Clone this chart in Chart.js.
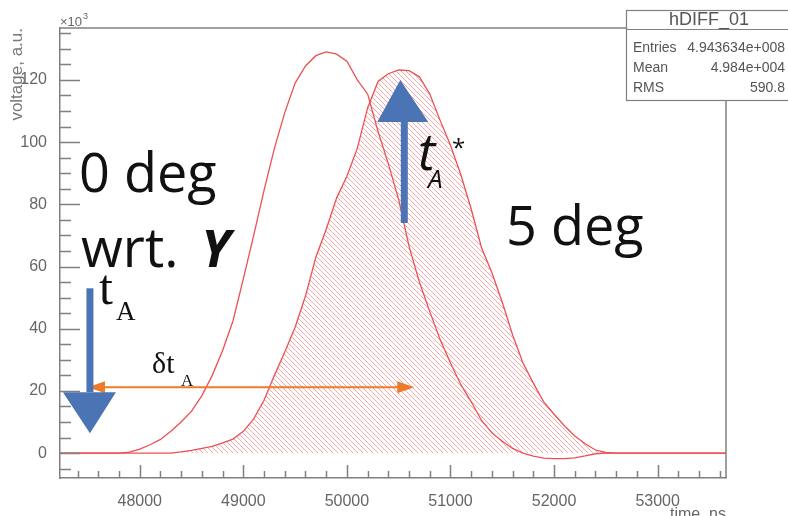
<!DOCTYPE html>
<html>
<head>
<meta charset="utf-8">
<script src="https://cdn.jsdelivr.net/npm/chart.js@4.4.1/dist/chart.umd.min.js"></script>
<style>
  html, body { margin: 0; padding: 0; background: #fff; }
</style>
</head>
<body>
<canvas id="chart" width="788" height="516"></canvas>
<script>
// time bins (ns)
const timeNs = [47200,
  47800, 47900, 48000, 48100, 48200, 48300, 48400, 48500, 48600, 48700,
  48800, 48900, 49000, 49100, 49200, 49300, 49400, 49500, 49600, 49700,
  49800, 49900, 50000, 50100, 50200, 50300, 50400, 50500, 50600, 50700,
  50800, 50900, 51000, 51100, 51200, 51300, 51400, 51500, 51600, 51700,
  51800, 51900, 52000, 52100, 52200, 52300, 52400, 52500, 52600,
  53700];

// voltage, a.u. (x10^3), 0 deg wrt. Y
const deg0 = [0,
  0, 0.3, 1.3, 2.7, 4.4, 7, 10, 13.5, 18.5, 25,
  33, 42.5, 56, 70, 84.5, 98, 109.5, 119, 124.5, 127.8,
  129, 128.3, 126, 120, 115.5, 103.5, 93, 81.5, 66.5, 55,
  45.5, 36.5, 29, 22, 16.5, 10.5, 6.5, 3.8, 1.5, 0,
  -1, -1.6, -1.8, -1.8, -1.5, -0.9, -0.2, 0, 0,
  0];

// 5 deg (hatched)
const deg5 = [0,
  0, 0, 0, 0, 0, 0, 0.4, 0.9, 1.5, 2.2,
  3.3, 4.5, 7, 11, 17, 25, 32.5, 40.5, 50.5, 63,
  72, 82, 89, 98, 111, 119.5, 122, 123.2, 123, 121,
  115.5, 107, 99, 89.5, 78.5, 66, 58, 48.5, 38, 29,
  22.5, 16.5, 12.5, 8.8, 5.5, 3, 1, 0.2, 0,
  0];

const xTickValues = [48000, 49000, 50000, 51000, 52000, 53000];
const yTickValues = [0, 20, 40, 60, 80, 100, 120];

const statsTitle = 'hDIFF_01';
const statsRows = [['Entries', '4.943634e+008'], ['Mean', '4.984e+004'], ['RMS', '590.8']];

function hatchPattern() {
  const s = 5;
  const c = document.createElement('canvas');
  c.width = s; c.height = s;
  const g = c.getContext('2d');
  g.strokeStyle = 'rgba(240,110,110,0.6)';
  g.lineWidth = 1;
  g.beginPath();
  g.moveTo(0, 0); g.lineTo(s, s);
  g.moveTo(-1, s - 1); g.lineTo(1, s + 1);
  g.moveTo(s - 1, -1); g.lineTo(s + 1, 1);
  g.stroke();
  return g.createPattern(c, 'repeat');
}

const ctx = document.getElementById('chart').getContext('2d');

function pts(vals) {
  return timeNs.map((t, i) => ({ x: t, y: vals[i] }));
}

// frame, inward ticks, stats box, labels
const rootFrame = {
  id: 'rootFrame',
  afterDatasetsDraw(chart) {
    const { ctx, chartArea: a, scales: { x, y } } = chart;
    ctx.save();
    ctx.strokeStyle = '#808080';
    ctx.lineWidth = 1.5;
    ctx.beginPath();
    for (let v = -5; v <= 135; v += 5) {
      const p = Math.round(y.getPixelForValue(v)) + 0.5;
      const len = v % 20 === 0 ? 20 : 11;
      ctx.moveTo(a.left, p); ctx.lineTo(a.left + len, p);
    }
    for (let t = 47400; t <= 53600; t += 200) {
      const p = Math.round(x.getPixelForValue(t)) + 0.5;
      const len = t % 1000 === 0 ? 13 : 7;
      ctx.moveTo(p, a.bottom); ctx.lineTo(p, a.bottom - len);
    }
    ctx.stroke();
    ctx.beginPath();
    ctx.moveTo(a.left, a.top); ctx.lineTo(a.right, a.top); ctx.lineTo(a.right, a.bottom);
    ctx.stroke();

    // stats box
    ctx.fillStyle = '#fff';
    ctx.lineWidth = 1.2;
    ctx.fillRect(626, 10, 170, 90);
    ctx.strokeRect(626.5, 10.5, 170, 90);
    ctx.beginPath(); ctx.moveTo(626, 29.5); ctx.lineTo(788, 29.5); ctx.stroke();
    ctx.fillStyle = '#555';
    ctx.textBaseline = 'middle';
    ctx.textAlign = 'center';
    ctx.font = '18px "Liberation Sans", Arial, sans-serif';
    ctx.fillText(statsTitle, 709, 20);
    ctx.font = '14px "Liberation Sans", Arial, sans-serif';
    const rowY = [48, 68.5, 88.5];
    statsRows.forEach((r, i) => {
      ctx.textAlign = 'left'; ctx.fillText(r[0], 633, rowY[i]);
      ctx.textAlign = 'right'; ctx.fillText(r[1], 785, rowY[i]);
    });

    // axis decorations
    ctx.fillStyle = '#666';
    ctx.textAlign = 'left';
    ctx.textBaseline = 'alphabetic';
    ctx.font = '13px "Liberation Sans", Arial, sans-serif';
    ctx.fillText('\u00d710', 60, 26);
    ctx.font = '9px "Liberation Sans", Arial, sans-serif';
    ctx.fillText('3', 83, 19);
    ctx.font = '16px "Liberation Sans", Arial, sans-serif';
    ctx.textAlign = 'right';
    ctx.fillText('time, ns', 726, 519);
    ctx.save();
    ctx.translate(22, 28);
    ctx.rotate(-Math.PI / 2);
    ctx.font = '17px "Liberation Sans", Arial, sans-serif';
    ctx.fillStyle = '#777';
    ctx.fillText('voltage, a.u.', 0, 0);
    ctx.restore();
    ctx.restore();
  }
};

const annotations = {
  id: 'annotations',
  afterDraw(chart) {
    const { ctx, scales: { x, y } } = chart;
    const X = v => x.getPixelForValue(v);
    const Y = v => y.getPixelForValue(v);
    ctx.save();

    // orange double arrow (delta t_A)
    const oy = Y(21.2), ox1 = X(47500), ox2 = X(50650);
    ctx.strokeStyle = '#ee7a2a'; ctx.fillStyle = '#ee7a2a';
    ctx.lineWidth = 2;
    ctx.beginPath(); ctx.moveTo(ox1 + 10, oy); ctx.lineTo(ox2 - 10, oy); ctx.stroke();
    ctx.beginPath(); ctx.moveTo(ox1, oy); ctx.lineTo(ox1 + 17, oy - 6); ctx.lineTo(ox1 + 17, oy + 6); ctx.closePath(); ctx.fill();
    ctx.beginPath(); ctx.moveTo(ox2, oy); ctx.lineTo(ox2 - 17, oy - 6); ctx.lineTo(ox2 - 17, oy + 6); ctx.closePath(); ctx.fill();

    // blue arrows
    ctx.fillStyle = '#4a74b4';
    const dx = X(47519);
    ctx.fillRect(dx - 3.5, Y(53), 7, Y(19.6) - Y(53));
    ctx.beginPath(); ctx.moveTo(dx - 27, Y(19.6)); ctx.lineTo(dx + 26, Y(19.6)); ctx.lineTo(dx, Y(6.4)); ctx.closePath(); ctx.fill();
    const ux = X(50554);
    ctx.fillRect(ux - 3.5, Y(106.5), 7, Y(74) - Y(106.5));
    ctx.beginPath(); ctx.moveTo(ux - 27, Y(106.5)); ctx.lineTo(ux + 24, Y(106.5)); ctx.lineTo(ux - 4, Y(120)); ctx.closePath(); ctx.fill();

    // texts
    ctx.fillStyle = '#111';
    ctx.textAlign = 'left';
    ctx.textBaseline = 'alphabetic';
    ctx.font = '54px "Open Sans", sans-serif';
    ctx.fillText('0 deg', 79, 192);
    ctx.fillText('5 deg', 506, 245);
    ctx.fillText('wrt.', 81, 267);
    ctx.font = 'italic bold 52px "Open Sans", sans-serif';
    ctx.fillText('Y', 201, 267);

    ctx.font = '50px "Liberation Serif", serif';
    ctx.fillText('t', 99, 304);
    ctx.font = '27px "Liberation Serif", serif';
    ctx.fillText('A', 116, 320);

    ctx.font = '30px "Liberation Serif", serif';
    ctx.fillText('\u03b4t', 152, 373);
    ctx.font = '17px "Liberation Serif", serif';
    ctx.fillText('A', 181, 386);

    ctx.font = 'italic 52px "Open Sans", sans-serif';
    ctx.fillText('t', 418, 170);
    ctx.font = 'italic 26px "Open Sans", sans-serif';
    ctx.fillText('A', 428, 188);
    ctx.font = '24px "Open Sans", sans-serif';
    ctx.fillText('*', 452, 156);
    ctx.restore();
  }
};

new Chart(ctx, {
  type: 'line',
  data: {
    datasets: [
      {
        label: '0 deg',
        data: pts(deg0),
        borderColor: 'rgb(236,80,84)',
        borderWidth: 1.3,
        pointRadius: 0,
        fill: false,
        tension: 0
      },
      {
        label: '5 deg',
        data: pts(deg5),
        borderColor: 'rgb(236,80,84)',
        borderWidth: 1.3,
        backgroundColor: hatchPattern(),
        pointRadius: 0,
        fill: 'origin',
        tension: 0
      }
    ]
  },
  options: {
    responsive: false,
    animation: false,
    events: [],
    layout: { padding: { top: 28, right: 62, left: 0, bottom: 0 } },
    plugins: { legend: { display: false }, tooltip: { enabled: false } },
    scales: {
      x: {
        type: 'linear',
        min: 47230,
        max: 53660,
        grid: { display: false },
        border: { color: '#808080', width: 1.5 },
        afterBuildTicks: s => { s.ticks = xTickValues.map(v => ({ value: v })); },
        ticks: {
          autoSkip: false,
          maxRotation: 0,
          padding: 6,
          color: '#666',
          font: { size: 16, family: '"Liberation Sans", Arial, sans-serif' },
          callback: v => String(v)
        },
        afterFit: s => { s.height = 38; }
      },
      y: {
        min: -8,
        max: 136.7,
        grid: { display: false },
        border: { color: '#808080', width: 1.5 },
        afterBuildTicks: s => { s.ticks = yTickValues.map(v => ({ value: v })); },
        ticks: {
          autoSkip: false,
          padding: 5,
          color: '#666',
          font: { size: 16, family: '"Liberation Sans", Arial, sans-serif' },
          callback: v => String(v)
        },
        afterFit: s => { s.width = 60; }
      }
    }
  },
  plugins: [rootFrame, annotations]
});
</script>
</body>
</html>
